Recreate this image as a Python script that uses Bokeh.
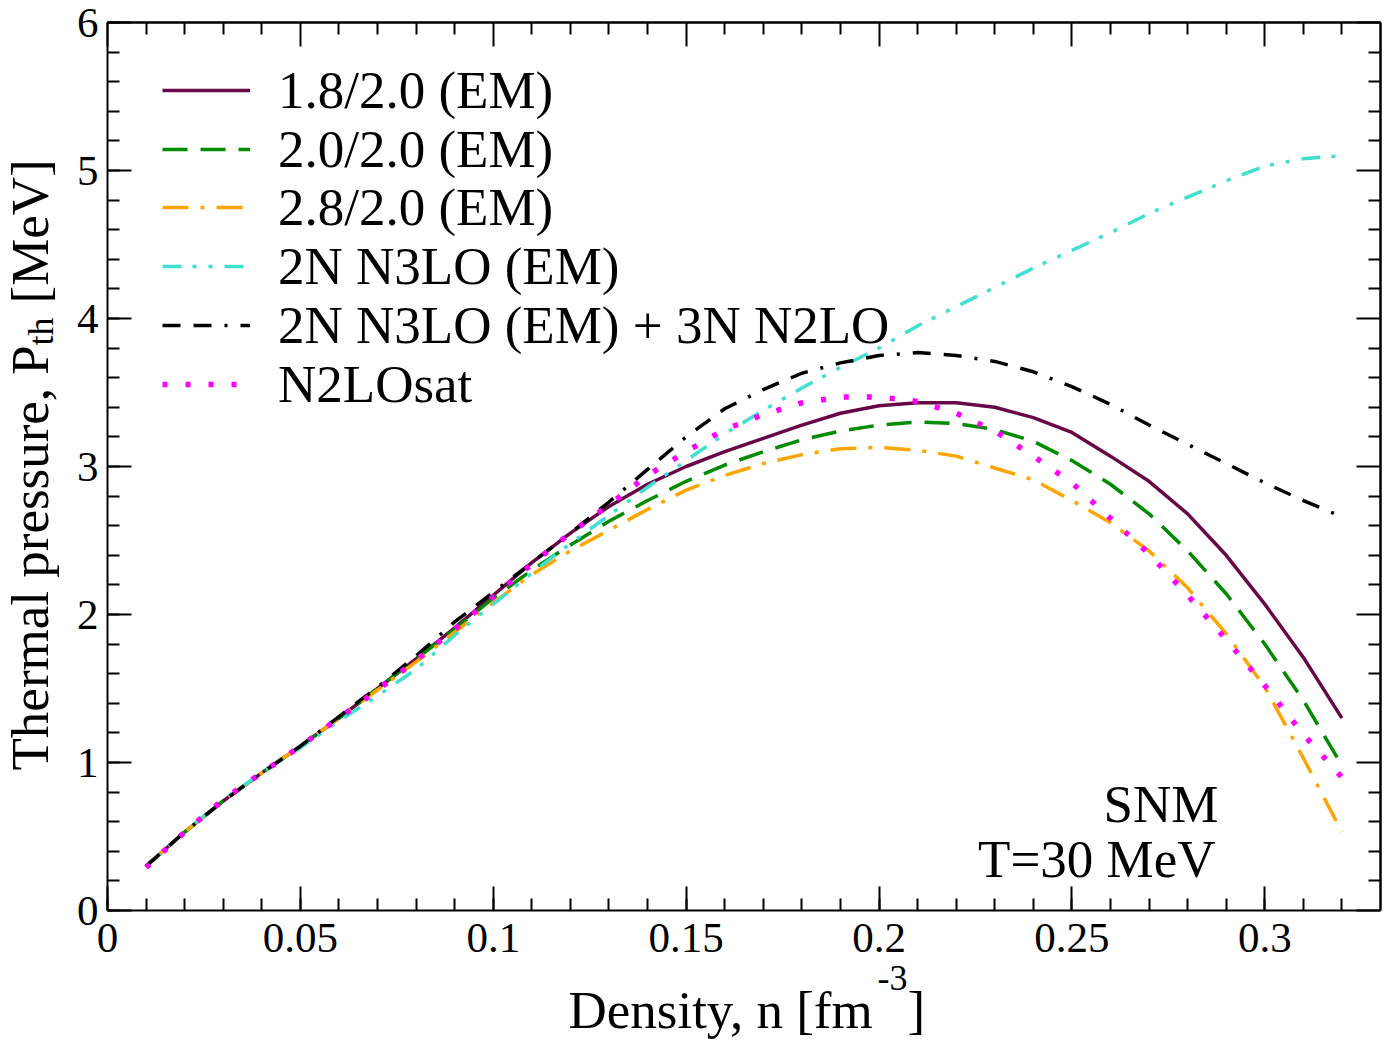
from math import pi

from bokeh.plotting import figure
from bokeh.models import (Range1d, LinearAxis, SingleIntervalTicker, FixedTicker,
                          CustomJSTickFormatter, Legend, LegendItem, Label)
from bokeh.embed import file_html
from bokeh.resources import INLINE

# ---------------------------------------------------------------------------
# Thermal pressure of symmetric nuclear matter at T = 30 MeV
# ---------------------------------------------------------------------------
density = [0.01, 0.02, 0.03, 0.04, 0.05, 0.06, 0.07, 0.08, 0.09, 0.10,
           0.11, 0.12, 0.13, 0.14, 0.15, 0.16, 0.17, 0.18, 0.19, 0.20,
           0.21, 0.22, 0.23, 0.24, 0.25, 0.26, 0.27, 0.28, 0.29, 0.30,
           0.31, 0.32]

p_18_20 = [0.30, 0.53, 0.74, 0.93, 1.11, 1.30, 1.50, 1.70, 1.91, 2.13,
           2.35, 2.55, 2.73, 2.88, 3.00, 3.10, 3.19, 3.28, 3.36, 3.41,
           3.43, 3.43, 3.40, 3.33, 3.23, 3.07, 2.90, 2.68, 2.40, 2.07,
           1.71, 1.30]

p_20_20 = [0.30, 0.53, 0.74, 0.93, 1.11, 1.30, 1.50, 1.70, 1.90, 2.11,
           2.30, 2.47, 2.63, 2.77, 2.90, 3.01, 3.10, 3.18, 3.24, 3.28,
           3.30, 3.29, 3.25, 3.17, 3.04, 2.88, 2.68, 2.43, 2.14, 1.80,
           1.42, 0.98]

p_28_20 = [0.30, 0.53, 0.74, 0.93, 1.11, 1.30, 1.49, 1.68, 1.88, 2.08,
           2.27, 2.43, 2.57, 2.71, 2.84, 2.94, 3.02, 3.08, 3.12, 3.13,
           3.11, 3.07, 2.99, 2.91, 2.77, 2.62, 2.43, 2.18, 1.87, 1.51,
           1.03, 0.53]

p_n3lo = [0.30, 0.53, 0.75, 0.93, 1.10, 1.28, 1.45, 1.63, 1.86, 2.07,
          2.28, 2.48, 2.67, 2.86, 3.04, 3.22, 3.38, 3.53, 3.67, 3.80,
          3.95, 4.08, 4.21, 4.34, 4.46, 4.58, 4.71, 4.82, 4.93, 5.03,
          5.08, 5.10]

p_n3lo_3n = [0.30, 0.53, 0.74, 0.93, 1.11, 1.31, 1.51, 1.72, 1.95, 2.15,
             2.35, 2.55, 2.76, 2.98, 3.20, 3.39, 3.52, 3.63, 3.70, 3.75,
             3.77, 3.75, 3.71, 3.64, 3.54, 3.42, 3.28, 3.15, 3.02, 2.89,
             2.77, 2.66]

p_n2losat = [0.29, 0.53, 0.75, 0.93, 1.11, 1.30, 1.49, 1.69, 1.90, 2.12,
             2.34, 2.55, 2.74, 2.94, 3.10, 3.25, 3.35, 3.43, 3.47, 3.47,
             3.44, 3.36, 3.24, 3.07, 2.89, 2.65, 2.41, 2.13, 1.83, 1.52,
             1.19, 0.90]

series_labels = ["1.8/2.0 (EM)", "2.0/2.0 (EM)", "2.8/2.0 (EM)",
                 "2N N3LO (EM)", "2N N3LO (EM) + 3N N2LO", "N2LOsat"]

# axis limits and tick positions
x_lim = (0.0, 0.33)
y_lim = (0.0, 6.0)
x_major = [0.0, 0.05, 0.10, 0.15, 0.20, 0.25, 0.30]
x_minor = [0.01, 0.02, 0.03, 0.04, 0.06, 0.07, 0.08, 0.09, 0.11, 0.12,
           0.13, 0.14, 0.16, 0.17, 0.18, 0.19, 0.21, 0.22, 0.23, 0.24,
           0.26, 0.27, 0.28, 0.29, 0.31, 0.32]
y_major = [0, 1, 2, 3, 4, 5, 6]
y_minor = [0.2, 0.4, 0.6, 0.8, 1.2, 1.4, 1.6, 1.8, 2.2, 2.4, 2.6, 2.8,
           3.2, 3.4, 3.6, 3.8, 4.2, 4.4, 4.6, 4.8, 5.2, 5.4, 5.6, 5.8]

# ---------------------------------------------------------------------------
FONT = "Liberation Serif"
W, H = 1388, 1040
# the axes box inside the canvas (pixels)
LEFT, RIGHT, TOP, BOTTOM = 107, 8, 22, 130
BOX_W, BOX_H = W - LEFT - RIGHT, H - TOP - BOTTOM
SX = BOX_W / (x_lim[1] - x_lim[0])          # pixels per x unit
SY = BOX_H / (y_lim[1] - y_lim[0])          # pixels per y unit
X_START = x_lim[0] - LEFT / SX
X_END = x_lim[1] + RIGHT / SX
Y_START = y_lim[0] - BOTTOM / SY
Y_END = y_lim[1] + TOP / SY


def xd(px):
    """canvas pixel column -> data x"""
    return X_START + px / SX


def yd(py):
    """canvas pixel row -> data y"""
    return Y_END - py / SY


# the frame spans the whole canvas; the axes are pinned to the box edges
p = figure(width=W, height=H, x_range=Range1d(X_START, X_END),
           y_range=Range1d(Y_START, Y_END),
           output_backend="svg", toolbar_location=None,
           x_axis_type=None, y_axis_type=None,
           min_border=0, min_border_left=0, min_border_right=0,
           min_border_top=0, min_border_bottom=0)
p.grid.visible = False
p.outline_line_color = None
p.background_fill_color = "white"
p.border_fill_color = "white"

fmt = CustomJSTickFormatter(code="return tick.toFixed(2).replace(/\\.?0+$/, '');")


def base_axis(ticker, loc, bounds):
    ax = LinearAxis(ticker=ticker, fixed_location=loc, bounds=bounds)
    ax.axis_line_width = 2
    ax.major_tick_line_width = 2
    ax.minor_tick_line_width = 2
    ax.major_tick_in = 24
    ax.major_tick_out = 0
    ax.minor_tick_in = 12
    ax.minor_tick_out = 0
    ax.major_label_text_font = FONT
    ax.major_label_text_font_size = "43px"
    ax.major_label_text_color = "black"
    return ax


# labelled axes
xb = base_axis(SingleIntervalTicker(interval=0.05, num_minor_ticks=5), y_lim[0], x_lim)
xb.formatter = fmt
xb.major_label_standoff = 13
p.add_layout(xb, "below")

yl = base_axis(SingleIntervalTicker(interval=1, num_minor_ticks=5), x_lim[0], y_lim)
yl.major_label_standoff = 9
p.add_layout(yl, "left")


# mirrored tick marks on the top and right edges (no labels)
def mirror_axis(minor_positions, length, loc, bounds):
    ax = base_axis(FixedTicker(ticks=[], minor_ticks=minor_positions), loc, bounds)
    ax.minor_tick_in = length
    return ax


p.add_layout(mirror_axis(x_major, 24, y_lim[1], x_lim), "above")
p.add_layout(mirror_axis(x_minor, 12, y_lim[1], x_lim), "above")
p.add_layout(mirror_axis(y_major, 24, x_lim[1], y_lim), "right")
p.add_layout(mirror_axis(y_minor, 12, x_lim[1], y_lim), "right")

# curves
r1 = p.line(density, p_18_20, line_color="#670748", line_width=3.5)
r2 = p.line(density, p_20_20, line_color="#008b00", line_width=3.5,
            line_dash="25 13")
r3 = p.line(density, p_28_20, line_color="#ffa500", line_width=3.5,
            line_dash="26 12 4 12")
r4 = p.line(density, p_n3lo, line_color="#40e0d0", line_width=3.5,
            line_dash="19 11 4 12 4 12")
r5 = p.line(density, p_n3lo_3n, line_color="black", line_width=3.5,
            line_dash="18 13 18 13 3 13")
r6 = p.line(density, p_n2losat, line_color="#ff00ff", line_width=5.5,
            line_dash="5 18")

renderers = [r1, r2, r3, r4, r5, r6]

# one legend entry per row, each row pinned to its own height
ROW_H = 60
row_centres = [90, 148.5, 207, 266, 325, 383.5]
for label, rend, cy in zip(series_labels, renderers, row_centres):
    leg = Legend(items=[LegendItem(label=label, renderers=[rend])],
                 location=(162, H - cy - ROW_H / 2), orientation="vertical",
                 label_text_font=FONT, label_text_font_size="53px",
                 label_text_color="black",
                 glyph_width=88, glyph_height=ROW_H, label_height=ROW_H,
                 label_standoff=28, spacing=0, padding=0, margin=0,
                 border_line_color=None, background_fill_alpha=0)
    p.add_layout(leg)

# text drawn with an alphabetic baseline sits this many pixels below its anchor
BASE_SHIFT = 18


def text(px, py, s, size, align="left", angle=0.0):
    if angle:
        px -= BASE_SHIFT
    else:
        py -= BASE_SHIFT
    p.add_layout(Label(x=xd(px), y=yd(py), text=s, angle=angle,
                       text_font=FONT, text_font_size=size,
                       text_color="black", text_align=align,
                       text_baseline="alphabetic"))


# x axis title with superscript
text(568, 1027, "Density, n [fm", "53px")
text(877, 995, "-3", "36px")
text(907, 1027, "]", "53px")

# y axis title with subscript
text(47, 770, "Thermal pressure, P", "53px", angle=pi / 2)
text(58, 345, "th", "36px", angle=pi / 2)
text(47, 303, "[MeV]", "53px", angle=pi / 2)

# annotation
text(1218, 821, "SNM", "53px", align="right")
text(1215, 876, "T=30 MeV", "53px", align="right")

open("out.html", "w").write(file_html(p, INLINE))
